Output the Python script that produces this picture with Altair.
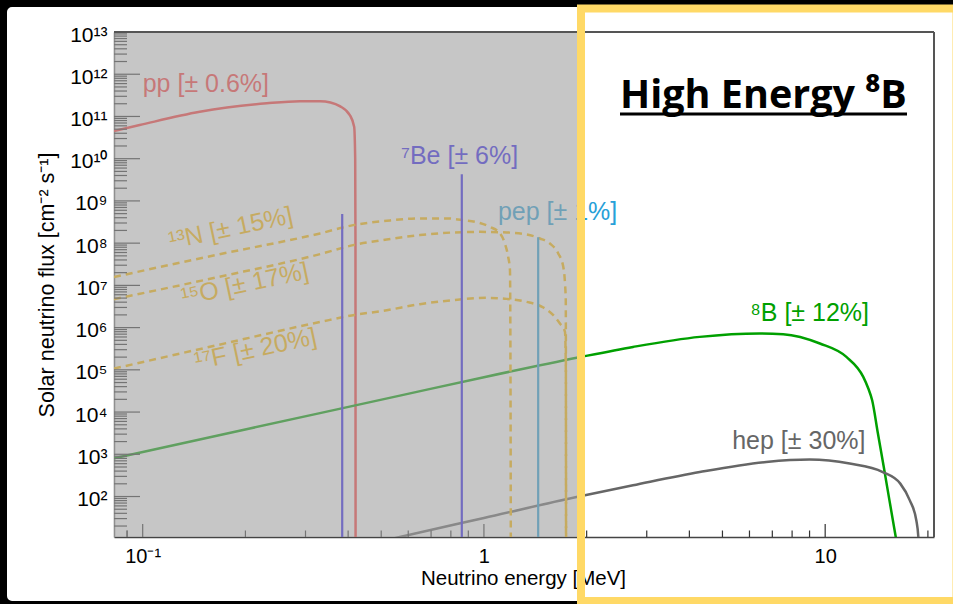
import altair as alt
import pandas as pd

# ---- axis ranges -------------------------------------------------------
E_MIN, E_MAX = 0.0824, 20.84          # neutrino energy [MeV]
F_MIN, F_MAX = 11.0, 1e13             # flux [cm^-2 s^-1]
HIGH_E_FROM = 1.925                   # start of the high-energy window [MeV]

# ---- continuous spectra (energy [MeV], flux) ---------------------------
pp_E = [0.0824, 0.098, 0.147, 0.231, 0.289, 0.331, 0.355, 0.378, 0.4045, 0.4166, 0.4195, 0.4203, 0.4206]
pp_F = [4.5e10, 6.25e10, 1.29e11, 2.05e11, 2.3e11, 2.3e11, 2.15e11, 1.76e11, 1.08e11, 5.7e10, 1e10, 1e8, 3]

n13_E = [0.0824, 0.165, 0.331, 0.414, 0.519, 0.649, 0.777, 0.870, 0.973, 1.041, 1.114, 1.152, 1.178, 1.192, 1.197, 1.199]
n13_F = [1.58e7, 5.3e7, 1.7e8, 2.67e8, 3.38e8, 3.85e8, 3.85e8, 3.5e8, 3.0e8, 2.43e8, 1.7e8, 9.8e7, 4.7e7, 2.3e7, 1e4, 3]

o15_E = [0.0824, 0.165, 0.331, 0.414, 0.519, 0.649, 0.813, 0.973, 1.166, 1.334, 1.459, 1.561, 1.651, 1.708, 1.728, 1.737, 1.739, 1.740]
o15_F = [4.7e6, 1.55e7, 5.5e7, 8.97e7, 1.22e8, 1.55e8, 1.79e8, 1.85e8, 1.79e8, 1.61e8, 1.29e8, 9.8e7, 5.7e7, 2.75e7, 1.11e7, 4.5e6, 1e4, 3]

f17_E = [0.0824, 0.165, 0.331, 0.414, 0.519, 0.649, 0.813, 1.018, 1.166, 1.334, 1.493, 1.597, 1.670, 1.728, 1.738, 1.741]
f17_F = [1.07e5, 3.83e5, 1.36e6, 1.97e6, 2.58e6, 3.59e6, 4.47e6, 5.06e6, 4.79e6, 4.07e6, 2.99e6, 1.97e6, 1.25e6, 7.9e5, 1e5, 3]

b8_E = [0.0824, 0.206, 0.567, 1.0, 1.887, 2.735, 4.29, 6.43, 7.53, 9.65, 11.54, 12.93, 13.37, 13.73, 14.27, 14.85, 15.43, 16.10, 16.26, 16.4]
b8_F = [804, 4.08e3, 2.45e4, 6.7e4, 1.96e5, 3.49e5, 6.03e5, 7.24e5, 6.98e5, 4.2e5, 2.02e5, 6.8e4, 3.66e4, 1.9e4, 3.15e3, 500, 81, 11, 7, 3]

hep_E = [0.5, 0.567, 1.0, 1.868, 2.735, 4.29, 6.72, 9.0, 11.8, 14.75, 16.6, 17.7, 18.5, 18.75, 18.8]
hep_F = [8.7, 11, 31, 97, 184, 380, 656, 748, 603, 380, 202, 81, 27, 11, 3]

# ---- mono-energetic lines (energy [MeV], flux) -------------------------
line_names = ["Be7", "Be7", "pep"]
line_E = [0.3843, 0.8613, 1.442]
line_F = [4.9e8, 4.3e9, 1.37e8]

# ---- labels ------------------------------------------------------------
label_series = ["pp", "Be7", "pep", "B8", "hep"]
label_text = ["pp [± 0.6%]", "⁷Be [± 6%]", "pep [± 1%]", "⁸B [± 12%]", "hep [± 30%]"]
label_E = [0.1, 0.571, 1.099, 6.03, 5.34]
label_F = [5.9e11, 1.15e10, 5.4e8, 2.19e6, 2.03e3]

cno_text = ["¹³N [± 15%]", "¹⁵O [± 17%]", "¹⁷F [± 20%]"]
cno_E = [0.181, 0.199, 0.214]
cno_F = [2.26e8, 1.07e7, 3.1e5]

series_names = ["pp", "Be7", "pep", "CNO", "B8", "hep"]
series_colors = ["#ff3c3c", "#3020f0", "#28a0d8", "#ffbb00", "#00a000", "#666666"]

# ---- tables ------------------------------------------------------------
def spectrum(name, es, fs):
    return pd.DataFrame({"series": name, "E": es, "F": fs})

solid = pd.concat([spectrum("pp", pp_E, pp_F), spectrum("B8", b8_E, b8_F),
                   spectrum("hep", hep_E, hep_F)], ignore_index=True)
dashed = pd.concat([spectrum("N13", n13_E, n13_F), spectrum("O15", o15_E, o15_F),
                    spectrum("F17", f17_E, f17_F)], ignore_index=True)
dashed["color"] = "CNO"
lines = pd.DataFrame({"series": line_names, "E": line_E, "F": line_F})
labels = pd.DataFrame({"series": label_series, "text": label_text, "E": label_E, "F": label_F})
cno_labels = pd.DataFrame({"series": "CNO", "text": cno_text, "E": cno_E, "F": cno_F})

y_major = [10.0 ** k for k in range(1, 14)]
y_minor = [m * 10.0 ** k for k in range(1, 13) for m in range(2, 10)]
x_major = [0.1, 1.0, 10.0]
x_minor = [m * 10.0 ** k for k in range(-2, 2) for m in range(2, 10)]
ticks_y_major = pd.DataFrame({"F": [v for v in y_major if F_MIN <= v <= F_MAX]})
ticks_y_minor = pd.DataFrame({"F": [v for v in y_minor if F_MIN <= v <= F_MAX]})
ticks_x_major = pd.DataFrame({"E": [v for v in x_major if E_MIN <= v <= E_MAX]})
ticks_x_minor = pd.DataFrame({"E": [v for v in x_minor + [0.09] if E_MIN <= v <= E_MAX]})

W, H = 820, 505
FONT = "Liberation Sans"

SUP = str.maketrans("0123456789-", "⁰¹²³⁴⁵⁶⁷⁸⁹⁻")
y_exps = list(range(2, 14))
y_label_expr = " : ".join(
    f"datum.value > {0.5 * 10.0 ** k:g} ? '10{str(k).translate(SUP)}'" for k in reversed(y_exps)
) + " : ''"
x_label_expr = "datum.value < 0.5 ? '10⁻¹' : datum.value < 5 ? '1' : '10'"

x_scale = alt.Scale(type="log", domain=[E_MIN, E_MAX], nice=False)
y_scale = alt.Scale(type="log", domain=[F_MIN, F_MAX], nice=False)

x_axis = alt.Axis(values=x_major, labelExpr=x_label_expr, ticks=False, tickSize=0, grid=False,
                  labelPadding=9, labelFontSize=20, labelFont=FONT, labelColor="black",
                  labelFlush=False, labelOverlap=False,
                  domainColor="#444444", domainWidth=1.5,
                  title="Neutrino energy [MeV]", titleFont=FONT, titleFontSize=20.5,
                  titleFontWeight="normal", titleColor="black", titleX=409, titleY=47,
                  titleAlign="center", titleBaseline="alphabetic")
y_axis = alt.Axis(values=[10.0 ** k for k in y_exps], labelExpr=y_label_expr, ticks=False, tickSize=0,
                  grid=False, labelPadding=7, labelFontSize=21, labelFont=FONT, labelColor="black",
                  labelFlush=False, labelOverlap=False, labelOffset=3,
                  domainColor="#777777", domainWidth=1.5,
                  title="Solar neutrino flux [cm⁻² s⁻¹]", titleFont=FONT, titleFontSize=21.5,
                  titleFontWeight="normal", titleColor="black", titleX=-61, titleY=H / 2,
                  titleAlign="center", titleBaseline="alphabetic")

X = alt.X("E:Q", scale=x_scale, axis=x_axis)
Y = alt.Y("F:Q", scale=y_scale, axis=y_axis)
Xn = alt.X("E:Q", scale=x_scale)
Yn = alt.Y("F:Q", scale=y_scale)
color = alt.Color("series:N", scale=alt.Scale(domain=series_names, range=series_colors), legend=None)
color_cno = alt.Color("color:N", scale=alt.Scale(domain=series_names, range=series_colors), legend=None)

one = pd.DataFrame({"k": [0]})

# black slide border around the figure
border = alt.Chart(one).mark_rect(filled=False, stroke="black", strokeWidth=14, cornerRadius=12).encode(
    x=alt.value(-114), x2=alt.value(856), y=alt.value(-32), y2=alt.value(576))

solid_layer = alt.Chart(solid).mark_line(strokeWidth=2.5, clip=True, interpolate="monotone").encode(
    x=X, y=Y, color=color, detail="series:N")
dashed_layer = alt.Chart(dashed).mark_line(strokeWidth=2.5, strokeDash=[7, 5], clip=True,
                                           interpolate="monotone").encode(
    x=Xn, y=Yn, color=color_cno, detail="series:N")
line_layer = alt.Chart(lines).mark_rule(strokeWidth=2.2, clip=True).encode(
    x=Xn, y=Yn, y2=alt.datum(F_MIN), color=color)

label_layer = alt.Chart(labels).mark_text(font=FONT, fontSize=25, align="left", baseline="middle").encode(
    x=Xn, y=Yn, text="text:N", color=color)
cno_label_layer = alt.Chart(cno_labels).mark_text(font=FONT, fontSize=25, align="center",
                                                  baseline="middle", angle=348).encode(
    x=Xn, y=Yn, text="text:N", color=color)

tick_style = dict(color="#333333", strokeWidth=1.2)
ty_major = alt.Chart(ticks_y_major).mark_rule(**tick_style).encode(y=Yn, x=alt.value(0), x2=alt.value(26))
ty_minor = alt.Chart(ticks_y_minor).mark_rule(**tick_style).encode(y=Yn, x=alt.value(0), x2=alt.value(13))
tx_major = alt.Chart(ticks_x_major).mark_rule(**tick_style).encode(x=Xn, y=alt.value(H), y2=alt.value(H - 13))
tx_minor = alt.Chart(ticks_x_minor).mark_rule(**tick_style).encode(x=Xn, y=alt.value(H), y2=alt.value(H - 6.5))

# grey veil over the low-energy part of the spectrum
veil = alt.Chart(pd.DataFrame({"E": [E_MIN], "E2": [HIGH_E_FROM], "F": [F_MAX], "F2": [F_MIN]})).mark_rect(
    color="#a0a0a0", opacity=0.6).encode(x=Xn, x2="E2:Q", y=Yn, y2="F2:Q")

frame_top = alt.Chart(one).mark_rule(color="#555555", strokeWidth=2).encode(
    x=alt.value(0), x2=alt.value(W), y=alt.value(0))
frame_right = alt.Chart(one).mark_rule(color="#555555", strokeWidth=2).encode(
    x=alt.value(W), y=alt.value(0), y2=alt.value(H))

# yellow box marking the high-energy window
box = alt.Chart(pd.DataFrame({"E": [HIGH_E_FROM]})).mark_rect(
    filled=False, stroke="#FFD966", strokeWidth=8).encode(
    x=Xn, x2=alt.value(842.5), y=alt.value(-23.5), y2=alt.value(569))

heading = alt.Chart(one).mark_text(text="High Energy ⁸B", font="Open Sans", fontWeight="bold",
                                   fontSize=39.5, align="left", baseline="alphabetic", color="black").encode(
    x=alt.value(506), y=alt.value(76))
underline = alt.Chart(one).mark_rule(color="black", strokeWidth=3).encode(
    x=alt.value(506), x2=alt.value(793), y=alt.value(82))

chart = alt.layer(
    solid_layer, dashed_layer, line_layer, label_layer, cno_label_layer,
    ty_major, ty_minor, tx_major, tx_minor, veil, frame_top, frame_right,
    border, box, heading, underline,
).properties(
    width=W, height=H,
    padding={"left": 114, "top": 32, "right": 19, "bottom": 67},
    autosize=alt.AutoSizeParams(type="none"),
    background="white",
).configure_view(strokeWidth=0)

chart.save("out.html", embed_options={"renderer": "svg", "actions": False})
